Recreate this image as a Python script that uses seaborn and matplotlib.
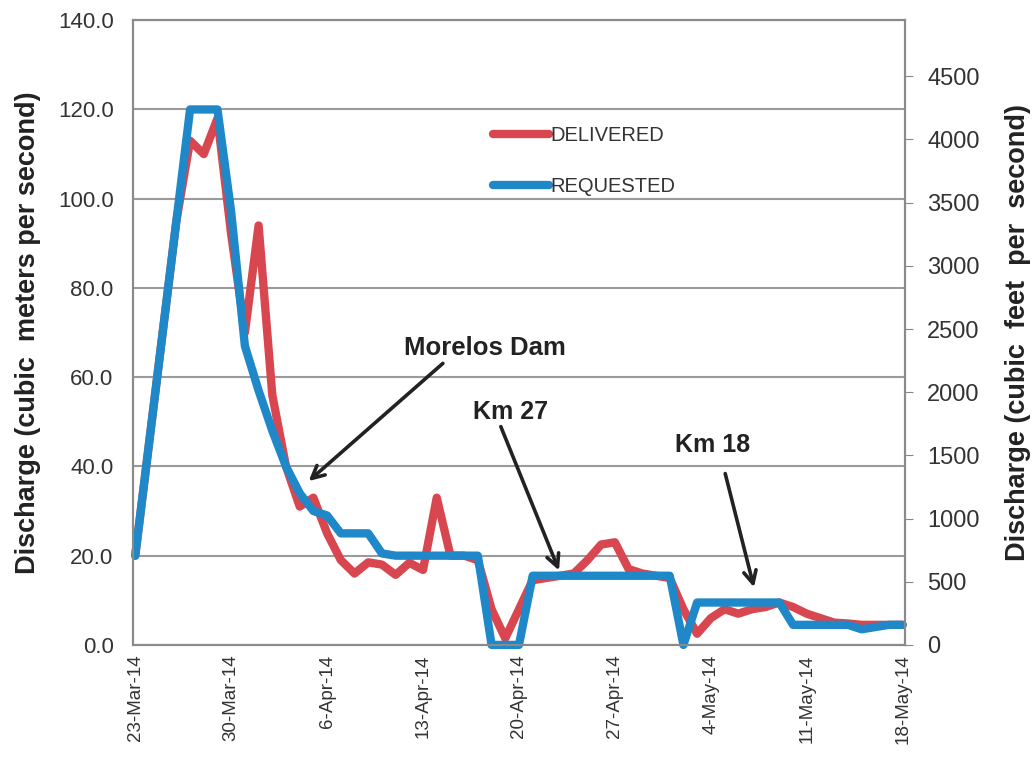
import pandas as pd
import numpy as np
import matplotlib
matplotlib.use('Agg')
import matplotlib.pyplot as plt
import seaborn as sns

# daily discharge, m3/s, 23-Mar-14 .. 18-May-14
start_date = '2014-03-23'
requested = [20, 45, 70, 95, 120, 120, 120, 97, 67, 57,
             48, 40, 34, 30, 29, 25, 25, 25, 20.5, 20,
             20, 20, 20, 20, 20, 20, 0, 0, 0, 15.5,
             15.5, 15.5, 15.5, 15.5, 15.5, 15.5, 15.5, 15.5, 15.5, 15.5,
             0, 9.5, 9.5, 9.5, 9.5, 9.5, 9.5, 9.5, 4.5, 4.5,
             4.5, 4.5, 4.5, 3.5, 4, 4.5, 4.5]
delivered = [20, 45, 70, 95, 113, 110, 118, 92, 70, 94,
             56, 40, 31, 33, 25, 19, 16, 18.5, 18, 15.7,
             18.4, 16.8, 33, 20, 20, 19, 8, 1.5, 8, 14.5,
             15, 15.5, 16, 19, 22.5, 23, 17, 16, 15.5, 15,
             8, 2.5, 6, 8, 7, 8, 8.5, 9.5, 8.5, 7,
             6, 5, 4.8, 4.5, 4.5, 4.5, 4.5]
tick_labels = ['23-Mar-14', '30-Mar-14', '6-Apr-14', '13-Apr-14', '20-Apr-14',
               '27-Apr-14', '4-May-14', '11-May-14', '18-May-14']
left_ticks = [0, 20, 40, 60, 80, 100, 120, 140]
right_ticks = [0, 500, 1000, 1500, 2000, 2500, 3000, 3500, 4000, 4500]
CFS_PER_CMS = 35.3147

dates = pd.date_range(start_date, periods=len(requested), freq='D')
df = pd.DataFrame({'date': dates, 'DELIVERED': delivered, 'REQUESTED': requested})

sns.set_style('white')
plt.rcParams['font.family'] = ['Liberation Sans', 'DejaVu Sans']

fig = plt.figure(figsize=(10.34, 7.77), dpi=100)
ax = fig.add_axes([0.1286, 0.170, 0.7466, 0.804])

red = '#d8474f'
blue = '#1e88c9'
sns.lineplot(data=df, x='date', y='DELIVERED', ax=ax, color=red, lw=6,
             label='DELIVERED', clip_on=False, zorder=3)
sns.lineplot(data=df, x='date', y='REQUESTED', ax=ax, color=blue, lw=6,
             label='REQUESTED', clip_on=False, zorder=4)

ax.set_ylim(0, 140)
ax.set_yticks(left_ticks)
ax.set_yticklabels([f'{v:.1f}' for v in left_ticks], fontsize=16, color='#333333')
ax.yaxis.grid(True, color='#9a9a9a', lw=1.5)
ax.set_axisbelow(True)

tick_dates = pd.to_datetime(tick_labels, format='%d-%b-%y')
ax.set_xticks(tick_dates)
ax.set_xticklabels(tick_labels, rotation=90, fontsize=13.5, color='#333333')
ax.set_xlim(dates[0] - pd.Timedelta(hours=4), dates[-1] + pd.Timedelta(hours=4))
ax.tick_params(axis='x', length=4, color='#888888', pad=3)
ax.tick_params(axis='y', length=0, pad=14)
ax.set_xlabel('')
ax.set_ylabel('Discharge (cubic  meters per second)', fontsize=19.5, fontweight='bold',
              color='#222222', labelpad=12)
for s in ax.spines.values():
    s.set_color('#8a8a8a')
    s.set_linewidth(1.5)

ax2 = ax.twinx()
ax2.set_ylim(0, 140 * CFS_PER_CMS)
ax2.set_yticks(right_ticks)
ax2.set_yticklabels([str(v) for v in right_ticks], fontsize=17, color='#333333')
ax2.tick_params(axis='y', length=6, color='#888888', pad=10)
ax2.set_ylabel('Discharge (cubic  feet  per  second)', fontsize=19.5, fontweight='bold',
               color='#222222', labelpad=18)
for s in ax2.spines.values():
    s.set_color('#8a8a8a')
    s.set_linewidth(1.5)

leg = ax.legend(loc='upper left', bbox_to_anchor=(0.443, 0.86), frameon=False,
                handlelength=2.8, handletextpad=0.05, labelspacing=1.6,
                prop={'size': 14.5})
for t in leg.get_texts():
    t.set_color('#333333')

d0 = dates[0]
def day(n):
    return d0 + pd.Timedelta(days=n)

arrow = dict(arrowstyle='->,head_length=0.9,head_width=0.45', lw=2.6, color='#222222')
ax.annotate('', xy=(day(12.5), 36.3), xytext=(day(22.6), 63.5), arrowprops=arrow, zorder=6)
ax.text(day(25.5), 66.5, 'Morelos Dam', fontsize=18.5, fontweight='bold', color='#222222',
        ha='center', va='center')
ax.annotate('', xy=(day(31), 16.1), xytext=(day(26.6), 49.5), arrowprops=arrow, zorder=6)
ax.text(day(27.4), 52.3, 'Km 27', fontsize=18, fontweight='bold', color='#222222',
        ha='center', va='center')
ax.annotate('', xy=(day(45.2), 12.3), xytext=(day(43), 39.0), arrowprops=arrow, zorder=6)
ax.text(day(42.1), 44.8, 'Km 18', fontsize=18, fontweight='bold', color='#222222',
        ha='center', va='center')

fig.savefig('out.png', dpi=100)
